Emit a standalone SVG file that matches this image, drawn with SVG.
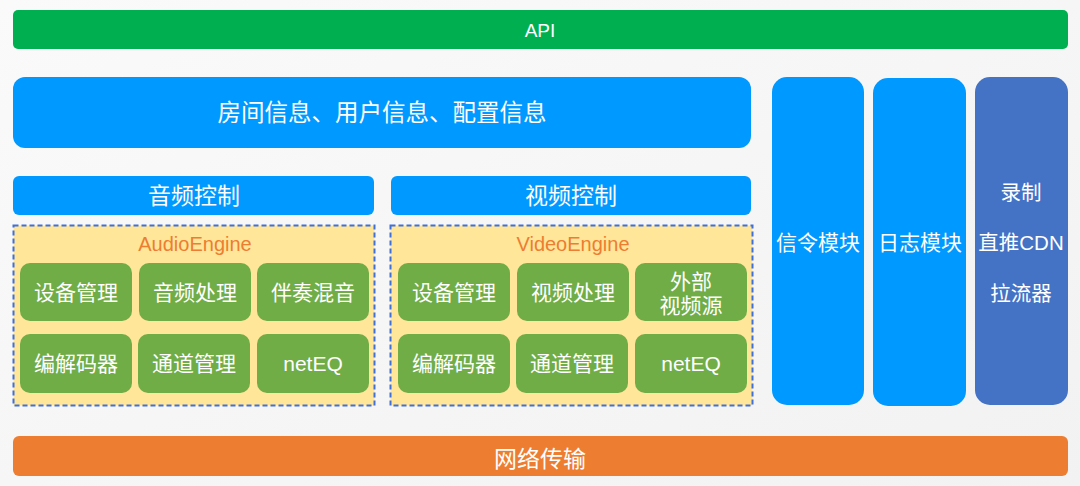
<svg xmlns="http://www.w3.org/2000/svg" width="1080" height="486" viewBox="0 0 1080 486">
<defs>
<linearGradient id="bg" x1="0" y1="0" x2="1" y2="1">
<stop offset="0" stop-color="#fafafa"/>
<stop offset="1" stop-color="#f2f2f2"/>
</linearGradient>
</defs>
<style>
text{font-family:"Liberation Sans","Noto Sans CJK SC",sans-serif;fill:#fff;text-anchor:middle;dominant-baseline:central}
.blue{fill:#0099FF}
.green{fill:#70AD47}
.dark{fill:#4472C4}
.eng{fill:#FFE699;stroke:#3F6FD8;stroke-width:2;stroke-dasharray:5 3}
.gt{font-size:21px}
.et{font-size:20px;fill:#ED7D31}
</style>
<rect width="1080" height="486" fill="url(#bg)"/>
<g id="api"><rect x="13" y="10" width="1055" height="39" rx="5" fill="#00B050"/><text x="540" y="30" font-size="19">API</text></g>
<g id="info"><rect class="blue" x="13" y="77" width="738" height="71" rx="12"/><text x="382" y="113" font-size="23.5">房间信息、用户信息、配置信息</text></g>
<g id="audio-ctrl"><rect class="blue" x="13" y="176" width="361" height="39" rx="6"/><text x="194" y="196" font-size="23">音频控制</text></g>
<g id="video-ctrl"><rect class="blue" x="391" y="176" width="360" height="39" rx="6"/><text x="571" y="196" font-size="23">视频控制</text></g>
<g id="audio-engine">
<rect class="eng" x="13.5" y="225.5" width="361" height="180"/>
<text class="et" x="195" y="244">AudioEngine</text>
</g>
<g id="a1"><rect class="green" x="20" y="263" width="112" height="58" rx="10"/><text class="gt" x="76" y="292">设备管理</text></g>
<g id="a2"><rect class="green" x="139" y="263" width="112" height="58" rx="10"/><text class="gt" x="195" y="292">音频处理</text></g>
<g id="a3"><rect class="green" x="257" y="263" width="112" height="58" rx="10"/><text class="gt" x="313" y="292">伴奏混音</text></g>
<g id="a4"><rect class="green" x="20" y="334" width="112" height="59" rx="10"/><text class="gt" x="76" y="363">编解码器</text></g>
<g id="a5"><rect class="green" x="138" y="334" width="112" height="59" rx="10"/><text class="gt" x="194" y="363">通道管理</text></g>
<g id="a6"><rect class="green" x="257" y="334" width="112" height="59" rx="10"/><text class="gt" x="313" y="363">netEQ</text></g>
<g id="video-engine">
<rect class="eng" x="390.5" y="225.5" width="362" height="180"/>
<text class="et" x="573" y="244">VideoEngine</text>
</g>
<g id="v1"><rect class="green" x="398" y="263" width="112" height="58" rx="10"/><text class="gt" x="454" y="292">设备管理</text></g>
<g id="v2"><rect class="green" x="517" y="263" width="112" height="58" rx="10"/><text class="gt" x="573" y="292">视频处理</text></g>
<g id="v3"><rect class="green" x="635" y="263" width="112" height="58" rx="10"/><text class="gt" x="691" y="281">外部</text><text class="gt" x="691" y="305">视频源</text></g>
<g id="v4"><rect class="green" x="398" y="334" width="112" height="59" rx="10"/><text class="gt" x="454" y="363">编解码器</text></g>
<g id="v5"><rect class="green" x="516" y="334" width="112" height="59" rx="10"/><text class="gt" x="572" y="363">通道管理</text></g>
<g id="v6"><rect class="green" x="635" y="334" width="112" height="59" rx="10"/><text class="gt" x="691" y="363">netEQ</text></g>
<g id="signal"><rect class="blue" x="772" y="77" width="92" height="328" rx="15"/><text x="818" y="242" font-size="21">信令模块</text></g>
<g id="log"><rect class="blue" x="873" y="78" width="93" height="328" rx="15"/><text x="920" y="242" font-size="21">日志模块</text></g>
<g id="cdn"><rect class="dark" x="975" y="77" width="93" height="328" rx="15"/>
<text x="1021" y="192" font-size="20.5">录制</text>
<text x="1021" y="242" font-size="20.5">直推CDN</text>
<text x="1021" y="293" font-size="20.5">拉流器</text></g>
<g id="network"><rect x="13" y="436" width="1055" height="40" rx="6" fill="#ED7D31"/><text x="540" y="459" font-size="23">网络传输</text></g>
<g id="connectors"/>
</svg>
